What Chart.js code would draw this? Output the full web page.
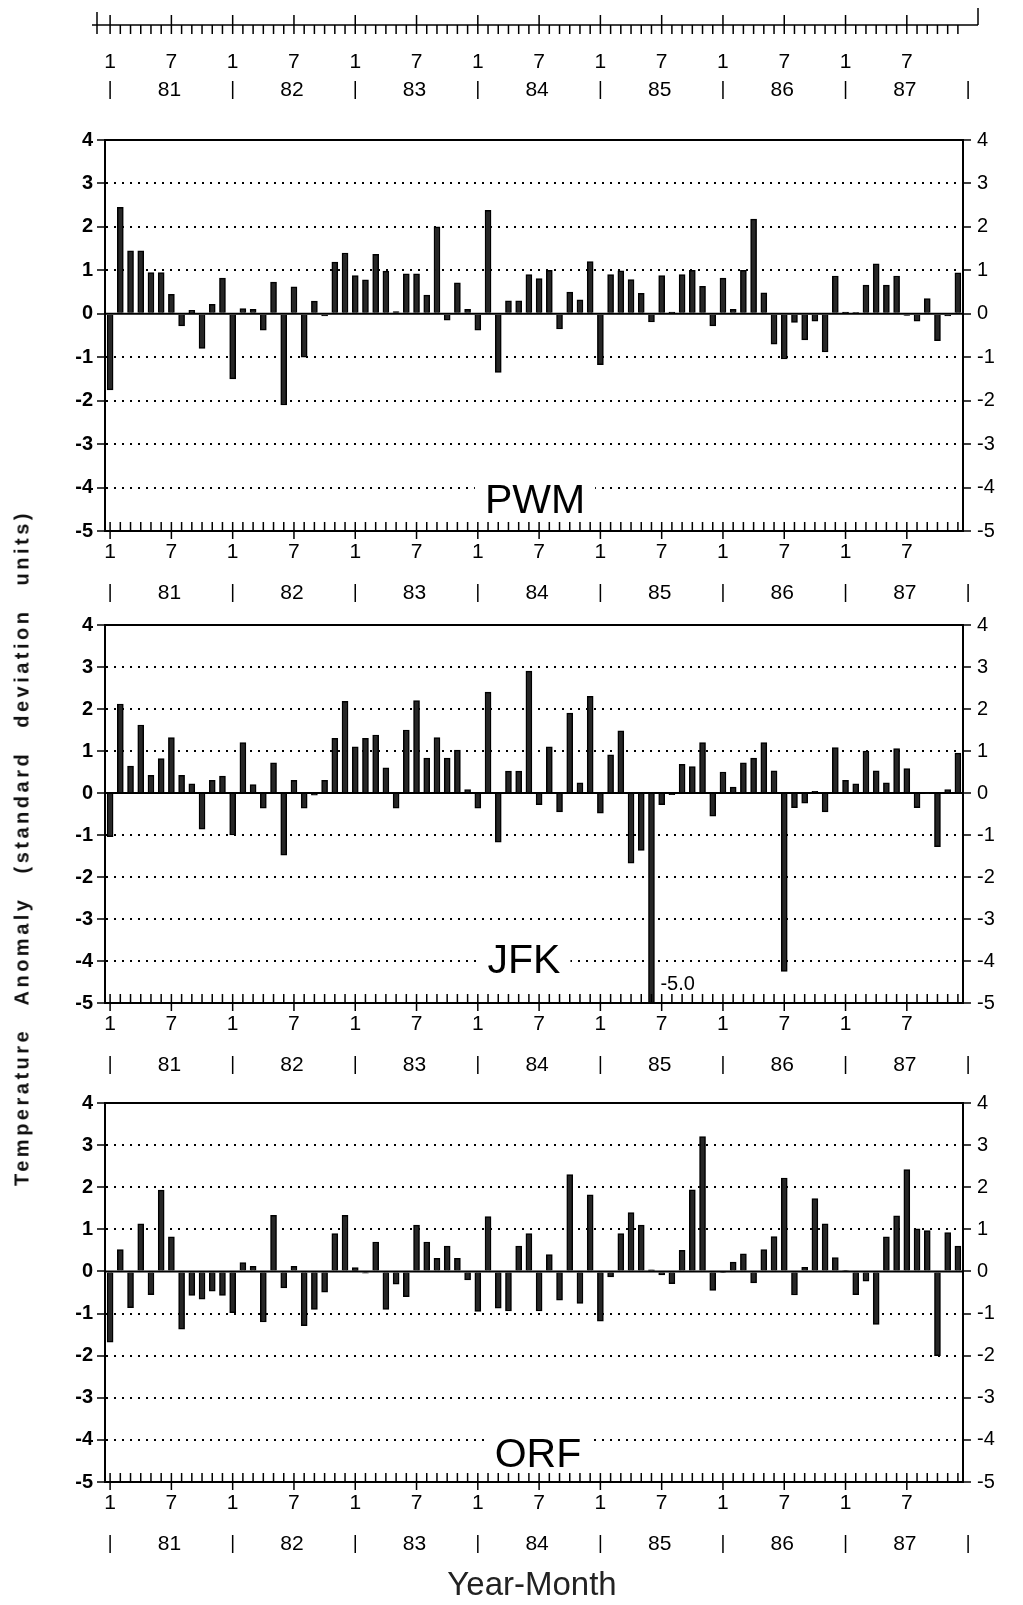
<!DOCTYPE html>
<html>
<head>
<meta charset="utf-8">
<script src="https://cdn.jsdelivr.net/npm/chart.js@4.4.0/dist/chart.umd.min.js"></script>
<style>
  html, body { margin: 0; padding: 0; background: #fff; }
  #page { position: relative; width: 1023px; height: 1605px; background: #fff; overflow: hidden; }
  .panel { position: absolute; left: 0; }
  #ytitle {
    position: absolute; left: 22px; top: 848px;
    transform: translate(-50%, -50%) rotate(-90deg);
    white-space: nowrap; color: #111;
    font: bold 20px "Liberation Sans", Arial, sans-serif;
    letter-spacing: 3.5px; word-spacing: 14px;
  }
</style>
</head>
<body>
<div id="page">
  <canvas class="panel" id="pwmChart" width="1023" height="605" style="top:0"></canvas>
  <canvas class="panel" id="jfkChart" width="1023" height="470" style="top:605px"></canvas>
  <canvas class="panel" id="orfChart" width="1023" height="530" style="top:1075px"></canvas>
  <div id="ytitle">Temperature Anomaly (standard deviation units)</div>
</div>
<script>
// Monthly anomalies, Jan 1981 .. Dec 1987
const years = ['81', '82', '83', '84', '85', '86', '87'];
const monthNumbers = [1, 2, 3, 4, 5, 6, 7, 8, 9, 10, 11, 12];

const pwmValues = [
  -1.75, 2.45, 1.45, 1.45, 0.95, 0.95, 0.45, -0.28, 0.08, -0.8, 0.22, 0.82,
  -1.5, 0.12, 0.1, -0.38, 0.73, -2.1, 0.62, -1.0, 0.29, -0.05, 1.19, 1.4,
  0.88, 0.78, 1.37, 0.98, 0.05, 0.92, 0.92, 0.43, 2.0, -0.15, 0.71, 0.1,
  -0.38, 2.38, -1.35, 0.3, 0.3, 0.9, 0.81, 1.0, -0.35, 0.5, 0.32, 1.2,
  -1.17, 0.9, 0.99, 0.79, 0.47, -0.19, 0.88, 0.04, 0.9, 1.0, 0.63, -0.28,
  0.82, 0.1, 1.0, 2.18, 0.48, -0.7, -1.04, -0.2, -0.6, -0.17, -0.88, 0.87,
  0.04, 0.03, 0.66, 1.15, 0.66, 0.87, -0.04, -0.17, 0.35, -0.62, -0.05, 0.94
];
const jfkValues = [
  -1.04, 2.12, 0.64, 1.62, 0.42, 0.82, 1.32, 0.42, 0.22, -0.86, 0.3, 0.4,
  -1.0, 1.2, 0.2, -0.36, 0.72, -1.48, 0.3, -0.36, -0.05, 0.3, 1.3, 2.18,
  1.1, 1.3, 1.38, 0.6, -0.36, 1.5, 2.2, 0.83, 1.32, 0.83, 1.02, 0.08,
  -0.36, 2.4, -1.17, 0.52, 0.52, 2.9, -0.28, 1.1, -0.45, 1.9, 0.24, 2.3,
  -0.48, 0.91, 1.48, -1.67, -1.37, -5.0, -0.28, -0.04, 0.68, 0.63, 1.2, -0.55,
  0.5, 0.14, 0.72, 0.83, 1.2, 0.53, -4.25, -0.35, -0.24, 0.04, -0.45, 1.08,
  0.3, 0.22, 1.0, 0.53, 0.24, 1.06, 0.58, -0.35, -0.02, -1.28, 0.08, 0.95
];
const orfValues = [
  -1.68, 0.52, -0.86, 1.13, -0.55, 1.93, 0.82, -1.37, -0.57, -0.66, -0.47, -0.57,
  -0.98, 0.21, 0.12, -1.2, 1.33, -0.39, 0.12, -1.29, -0.9, -0.49, 0.9, 1.33,
  0.09, -0.04, 0.7, -0.9, -0.3, -0.6, 1.1, 0.7, 0.31, 0.6, 0.31, -0.2,
  -0.95, 1.3, -0.87, -0.94, 0.6, 0.9, -0.94, 0.4, -0.68, 2.3, -0.76, 1.82,
  -1.18, -0.13, 0.9, 1.4, 1.1, 0.04, -0.08, -0.29, 0.5, 1.94, 3.2, -0.45,
  -0.02, 0.22, 0.42, -0.27, 0.52, 0.83, 2.22, -0.56, 0.1, 1.73, 1.13, 0.33,
  0.02, -0.55, -0.23, -1.26, 0.82, 1.32, 2.42, 1.01, 0.97, -2.0, 0.92, 0.6
];

const yMin = -5;
const yMax = 4;

const categories = years.flatMap(yr => monthNumbers.map(m => yr + '-' + m));
const FONT = '"Liberation Sans", Arial, Helvetica, sans-serif';

function isMajor(i) {
  const m = monthNumbers[i % 12];
  return m === 1 || m === 7;
}

// "1  7" row and "| 81 |" row under a month axis
function drawDateRows(ctx, x, rowY, yearY) {
  const step = x.getPixelForValue(1) - x.getPixelForValue(0);
  ctx.font = '21px ' + FONT;
  ctx.textAlign = 'center';
  ctx.textBaseline = 'middle';
  ctx.lineWidth = 1.5;
  categories.forEach((c, i) => {
    if (isMajor(i)) ctx.fillText(String(monthNumbers[i % 12]), x.getPixelForValue(i), rowY);
  });
  const sep = px => {
    ctx.beginPath();
    ctx.moveTo(px, yearY - 9);
    ctx.lineTo(px, yearY + 9);
    ctx.stroke();
  };
  years.forEach((yr, k) => {
    sep(x.getPixelForValue(k * 12));
    ctx.fillText(yr, x.getPixelForValue(k * 12 + 6) - 2, yearY);
  });
  sep(x.getPixelForValue(categories.length - 1) + step);
}

function drawTopStrip(ctx, x, area) {
  const lineY = 25;
  ctx.lineWidth = 1.5;
  ctx.beginPath();
  ctx.moveTo(area.left - 13, lineY);
  ctx.lineTo(area.right + 15, lineY);
  ctx.moveTo(area.left - 8, lineY - 13);
  ctx.lineTo(area.left - 8, lineY + 9);
  ctx.moveTo(area.right + 15, lineY - 17);
  ctx.lineTo(area.right + 15, lineY);
  categories.forEach((c, i) => {
    const px = x.getPixelForValue(i);
    ctx.moveTo(px, lineY + 9);
    ctx.lineTo(px, isMajor(i) ? lineY - 10 : lineY);
  });
  ctx.stroke();
  drawDateRows(ctx, x, 62, 90);
}

const monthAxisPlugin = {
  id: 'monthAxis',
  beforeDatasetsDraw(chart) {
    const { ctx, chartArea: area, scales: { y } } = chart;
    const y0 = y.getPixelForValue(0);
    ctx.save();
    ctx.strokeStyle = '#000';
    ctx.lineWidth = 2;
    ctx.beginPath();
    ctx.moveTo(area.left, y0);
    ctx.lineTo(area.right, y0);
    ctx.stroke();
    ctx.restore();
  },
  afterDraw(chart, args, opts) {
    const { ctx, chartArea: area, scales: { x, y } } = chart;
    ctx.save();
    ctx.strokeStyle = '#000';
    ctx.fillStyle = '#000';

    // top and bottom of the frame
    ctx.lineWidth = 2;
    ctx.beginPath();
    ctx.moveTo(area.left, area.top);
    ctx.lineTo(area.right, area.top);
    ctx.moveTo(area.left, area.bottom);
    ctx.lineTo(area.right, area.bottom);
    ctx.stroke();

    // month ticks: every month up into the plot, Jan/Jul also below
    ctx.lineWidth = 1.5;
    ctx.beginPath();
    categories.forEach((c, i) => {
      const px = x.getPixelForValue(i);
      ctx.moveTo(px, area.bottom - 9);
      ctx.lineTo(px, area.bottom + (isMajor(i) ? 8 : 0));
    });
    ctx.stroke();
    drawDateRows(ctx, x, area.bottom + 21, area.bottom + 62);

    if (opts.topStrip) drawTopStrip(ctx, x, area);

    // station name sitting on the -4 gridline
    ctx.font = '41px ' + FONT;
    ctx.textAlign = 'center';
    ctx.textBaseline = 'middle';
    const cx = (area.left + area.right) / 2 + opts.labelDx;
    const cy = y.getPixelForValue(opts.labelValue);
    const tw = ctx.measureText(opts.station).width;
    ctx.fillStyle = '#fff';
    ctx.fillRect(cx - tw / 2 - 10, cy - 17, tw + 20, 34);
    ctx.fillStyle = '#000';
    ctx.fillText(opts.station, cx, cy + 1);

    if (opts.note) {
      ctx.font = '20px ' + FONT;
      ctx.textAlign = 'left';
      ctx.fillText(opts.note.text, x.getPixelForValue(opts.note.index) + 9, y.getPixelForValue(opts.note.value));
    }

    if (opts.xTitle) {
      ctx.font = '33px ' + FONT;
      ctx.textAlign = 'center';
      ctx.fillStyle = '#222';
      ctx.fillText(opts.xTitle, (area.left + area.right) / 2 - 2, area.bottom + 104);
    }
    ctx.restore();
  }
};

function valueAxis(position) {
  const left = position === 'left';
  return {
    type: 'linear',
    position: position,
    min: yMin,
    max: yMax,
    afterFit: function(scale) {
      scale.width = left ? 60 : 50;
    },
    ticks: {
      stepSize: 1,
      color: '#000',
      padding: left ? 4 : 6,
      font: { family: FONT, size: 20, weight: left ? 'bold' : 'normal' }
    },
    grid: {
      drawOnChartArea: left,
      color: function(context) {
        const v = context.tick ? context.tick.value : null;
        return (v === 0 || v === yMin || v === yMax) ? 'rgba(0,0,0,0)' : '#000';
      },
      lineWidth: 2,
      tickLength: 8,
      tickColor: '#000',
      tickWidth: 1.5
    },
    border: { display: true, color: '#000', width: 2, dash: [2, 6] }
  };
}

function makePanel(canvasId, values, padding, axisOpts) {
  return new Chart(document.getElementById(canvasId), {
    type: 'bar',
    data: {
      labels: categories,
      datasets: [{
        data: values,
        backgroundColor: '#262626',
        borderColor: '#000',
        borderWidth: 1.5,
        barThickness: 6
      }]
    },
    options: {
      responsive: false,
      animation: false,
      layout: { padding: padding },
      plugins: {
        legend: { display: false },
        tooltip: { enabled: false },
        monthAxis: axisOpts
      },
      scales: {
        x: { type: 'category', display: false, offset: true },
        y: valueAxis('left'),
        y2: valueAxis('right')
      }
    },
    plugins: [monthAxisPlugin]
  });
}

makePanel('pwmChart', pwmValues,
  { left: 45, right: 10, top: 140, bottom: 74 },
  { station: 'PWM', labelValue: -4.3, labelDx: 1, topStrip: true });

makePanel('jfkChart', jfkValues,
  { left: 45, right: 10, top: 20, bottom: 72 },
  { station: 'JFK', labelValue: -4.0, labelDx: -10, note: { text: '-5.0', index: 53, value: -4.55 } });

makePanel('orfChart', orfValues,
  { left: 45, right: 10, top: 28, bottom: 123 },
  { station: 'ORF', labelValue: -4.35, labelDx: 4, xTitle: 'Year-Month' });
</script>
</body>
</html>
